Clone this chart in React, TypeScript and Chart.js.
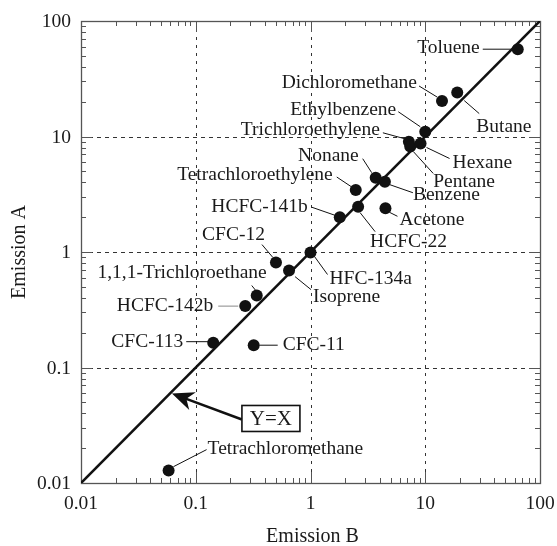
import React, { useEffect, useRef } from "react";
import { Chart, registerables } from "chart.js";

Chart.register(...registerables);

// ---- data ----
const compounds = [
  "Toluene", "Dichloromethane", "Butane", "Ethylbenzene", "Trichloroethylene",
  "Pentane", "Hexane", "Nonane", "Benzene", "Tetrachloroethylene",
  "HCFC-141b", "HCFC-22", "Acetone", "HFC-134a", "Isoprene", "CFC-12",
  "1,1,1-Trichloroethane", "HCFC-142b", "CFC-113", "CFC-11", "Tetrachloromethane",
];
const emissionB = [64, 14, 19, 10, 7.2, 7.4, 9.1, 3.7, 4.45, 2.48, 1.8, 2.6, 4.5, 1.0, 0.65, 0.5, 0.34, 0.27, 0.142, 0.32, 0.058];
const emissionA = [57, 20.3, 24, 11, 9.0, 8.2, 8.7, 4.4, 4.06, 3.44, 2.0, 2.47, 2.39, 0.99, 0.69, 0.81, 0.42, 0.34, 0.164, 0.156, 0.0128];
const identityLine = [0.01, 100];
const majorTicks = [0.01, 0.1, 1, 10, 100];
const tickLabels = ["0.01", "0.1", "1", "10", "100"];
const gridValues = [0.1, 1, 10];
const xTitle = "Emission B";
const yTitle = "Emission A";
const identityText = "Y=X";
const arrowTipValue = 0.062;

// ---- label layout (pixel offsets relative to each point) ----
type Lay = { a: "left" | "right"; dx: number; dy: number; l: [number, number, number, number]; grey?: boolean };
const labelLayout: Lay[] = [
  { a: "right", dx: -38, dy: -1, l: [-35, 0, -7, 0] },
  { a: "right", dx: -25, dy: -18, l: [-23, -15, -5, -4] },
  { a: "left", dx: 19, dy: 34, l: [7, 8, 22, 21] },
  { a: "right", dx: -29, dy: -22, l: [-27, -20, -5, -5] },
  { a: "right", dx: -29, dy: -12, l: [-26, -9, -4, -3] },
  { a: "left", dx: 23, dy: 35, l: [3, 5, 23, 27] },
  { a: "left", dx: 32, dy: 19, l: [6, 4, 29, 15] },
  { a: "right", dx: -17, dy: -22, l: [-13, -19, -4, -5] },
  { a: "left", dx: 28, dy: 13, l: [5, 3, 28, 11] },
  { a: "right", dx: -23, dy: -15, l: [-19, -13, -4, -3] },
  { a: "right", dx: -32, dy: -10, l: [-28, -10, -5, -2] },
  { a: "left", dx: 12, dy: 35, l: [2, 6, 17, 25] },
  { a: "left", dx: 14, dy: 12, l: [4, 4, 12, 8] },
  { a: "left", dx: 19, dy: 26, l: [4, 4, 17, 22] },
  { a: "left", dx: 24, dy: 26, l: [6, 6, 22, 19] },
  { a: "right", dx: -11, dy: -28, l: [-14, -18, -3, -5] },
  { a: "right", dx: 10, dy: -23, l: [-5, -10, -1, -5] },
  { a: "right", dx: -32, dy: 0, l: [-27, 0, -7, 0], grey: true },
  { a: "right", dx: -30, dy: -1, l: [-27, -1, -5, -1] },
  { a: "left", dx: 29, dy: 0, l: [6, 0, 24, 0] },
  { a: "left", dx: 39, dy: -22, l: [5, -4, 38, -21] },
];

const FONT = "Liberation Serif, 'Times New Roman', serif";
const TEXT = "#1a1a1a";

const framePlugin = {
  id: "frame",
  beforeDatasetsDraw(chart: any) {
    const { ctx, chartArea: ca, scales } = chart;
    const xs = scales.x, ys = scales.y;
    ctx.save();
    // dashed grid
    ctx.strokeStyle = "#333";
    ctx.lineWidth = 1;
    gridValues.forEach((v) => {
      const px = Math.round(xs.getPixelForValue(v)) + 0.5;
      ctx.setLineDash([3, 5]);
      ctx.beginPath();
      ctx.moveTo(px, ca.top);
      ctx.lineTo(px, ca.bottom);
      ctx.stroke();
      const py = Math.round(ys.getPixelForValue(v)) + 0.5;
      ctx.setLineDash([4, 4]);
      ctx.beginPath();
      ctx.moveTo(ca.left, py);
      ctx.lineTo(ca.right, py);
      ctx.stroke();
    });
    ctx.setLineDash([]);
    // ticks (inward on all sides)
    ctx.strokeStyle = "#555";
    for (let d = 0; d < majorTicks.length - 1; d++) {
      for (let m = 1; m <= 9; m++) {
        const v = majorTicks[d] * m;
        const len = m === 1 ? 11 : 5;
        const px = Math.round(xs.getPixelForValue(v)) + 0.5;
        const py = Math.round(ys.getPixelForValue(v)) + 0.5;
        ctx.beginPath();
        ctx.moveTo(px, ca.bottom); ctx.lineTo(px, ca.bottom - len);
        ctx.moveTo(px, ca.top); ctx.lineTo(px, ca.top + len);
        ctx.moveTo(ca.left, py); ctx.lineTo(ca.left + len, py);
        ctx.moveTo(ca.right, py); ctx.lineTo(ca.right - len, py);
        ctx.stroke();
      }
    }
    // frame
    ctx.lineWidth = 1.3;
    ctx.strokeStyle = "#555";
    ctx.strokeRect(Math.round(ca.left) + 0.5, Math.round(ca.top) + 0.5, Math.round(ca.right - ca.left), Math.round(ca.bottom - ca.top));
    // tick labels
    ctx.fillStyle = TEXT;
    ctx.font = `19.5px ${FONT}`;
    majorTicks.forEach((v, i) => {
      ctx.textAlign = "center";
      ctx.textBaseline = "middle";
      ctx.fillText(tickLabels[i], xs.getPixelForValue(v), ca.bottom + 21);
      ctx.textAlign = "right";
      ctx.fillText(tickLabels[i], ca.left - 10, ys.getPixelForValue(v) + 1);
    });
    // titles
    ctx.font = `20px ${FONT}`;
    ctx.textAlign = "center";
    ctx.fillText(xTitle, (ca.left + ca.right) / 2 + 2, ca.bottom + 54);
    ctx.save();
    ctx.translate(20, (ca.top + ca.bottom) / 2);
    ctx.rotate(-Math.PI / 2);
    ctx.fillText(yTitle, 0, 0);
    ctx.restore();
    ctx.restore();
  },
  afterDatasetsDraw(chart: any) {
    const { ctx, scales } = chart;
    const xs = scales.x, ys = scales.y;
    ctx.save();
    ctx.font = `19.5px ${FONT}`;
    ctx.textBaseline = "middle";
    compounds.forEach((name, i) => {
      const px = xs.getPixelForValue(emissionB[i]);
      const py = ys.getPixelForValue(emissionA[i]);
      const L = labelLayout[i];
      ctx.strokeStyle = L.grey ? "#888" : "#111";
      ctx.lineWidth = 1;
      ctx.beginPath();
      ctx.moveTo(px + L.l[0], py + L.l[1]);
      ctx.lineTo(px + L.l[2], py + L.l[3]);
      ctx.stroke();
      ctx.fillStyle = TEXT;
      ctx.textAlign = L.a;
      ctx.fillText(name, px + L.dx, py + L.dy);
    });
    // Y=X annotation
    const tx = xs.getPixelForValue(arrowTipValue);
    const ty = ys.getPixelForValue(arrowTipValue) + 2;
    const tailX = tx + 70, tailY = ty + 26;
    const dx = tx - tailX, dy = ty - tailY;
    const len = Math.hypot(dx, dy);
    const ux = dx / len, uy = dy / len;
    const nx = -uy, ny = ux;
    const HL = 22, HW = 9.5;
    ctx.strokeStyle = "#111";
    ctx.fillStyle = "#111";
    ctx.lineWidth = 2.5;
    ctx.beginPath();
    ctx.moveTo(tailX, tailY);
    ctx.lineTo(tx - ux * HL * 0.6, ty - uy * HL * 0.6);
    ctx.stroke();
    ctx.beginPath();
    ctx.moveTo(tx, ty);
    ctx.lineTo(tx - ux * HL + nx * HW, ty - uy * HL + ny * HW);
    ctx.lineTo(tx - ux * HL * 0.7, ty - uy * HL * 0.7);
    ctx.lineTo(tx - ux * HL - nx * HW, ty - uy * HL - ny * HW);
    ctx.closePath();
    ctx.fill();
    const bx = tx + 70, by = ty + 12, bw = 58, bh = 26;
    ctx.fillStyle = "#fff";
    ctx.fillRect(bx, by, bw, bh);
    ctx.lineWidth = 1.6;
    ctx.strokeRect(bx, by, bw, bh);
    ctx.fillStyle = TEXT;
    ctx.font = `21px ${FONT}`;
    ctx.textAlign = "center";
    ctx.fillText(identityText, bx + bw / 2, by + bh / 2 + 1);
    ctx.restore();
  },
};

export default function App() {
  const ref = useRef<HTMLCanvasElement>(null);
  useEffect(() => {
    if (!ref.current) return;
    const chart = new Chart(ref.current, {
      type: "scatter",
      data: {
        datasets: [
          {
            label: "Y=X",
            data: identityLine.map((v) => ({ x: v, y: v })),
            showLine: true,
            borderColor: "#111",
            borderWidth: 2.6,
            pointRadius: 0,
            pointHoverRadius: 0,
          },
          {
            label: "compounds",
            data: emissionB.map((b, i) => ({ x: b, y: emissionA[i] })),
            backgroundColor: "#111",
            borderColor: "#111",
            borderWidth: 0,
            pointRadius: 6,
            pointHoverRadius: 6,
          },
        ],
      },
      options: {
        responsive: false,
        animation: false,
        devicePixelRatio: 1,
        layout: { padding: { left: 81, top: 21, right: 17, bottom: 63 } },
        plugins: { legend: { display: false }, tooltip: { enabled: false } },
        events: [],
        scales: {
          x: { type: "logarithmic", min: 0.01, max: 100, display: false },
          y: { type: "logarithmic", min: 0.01, max: 100, display: false },
        },
      },
      plugins: [framePlugin],
    });
    return () => chart.destroy();
  }, []);
  return (
    <div style={{ position: "fixed", left: 0, top: 0, width: 557, height: 546, background: "#fff" }}>
      <canvas ref={ref} width={557} height={546} style={{ display: "block" }} />
    </div>
  );
}
